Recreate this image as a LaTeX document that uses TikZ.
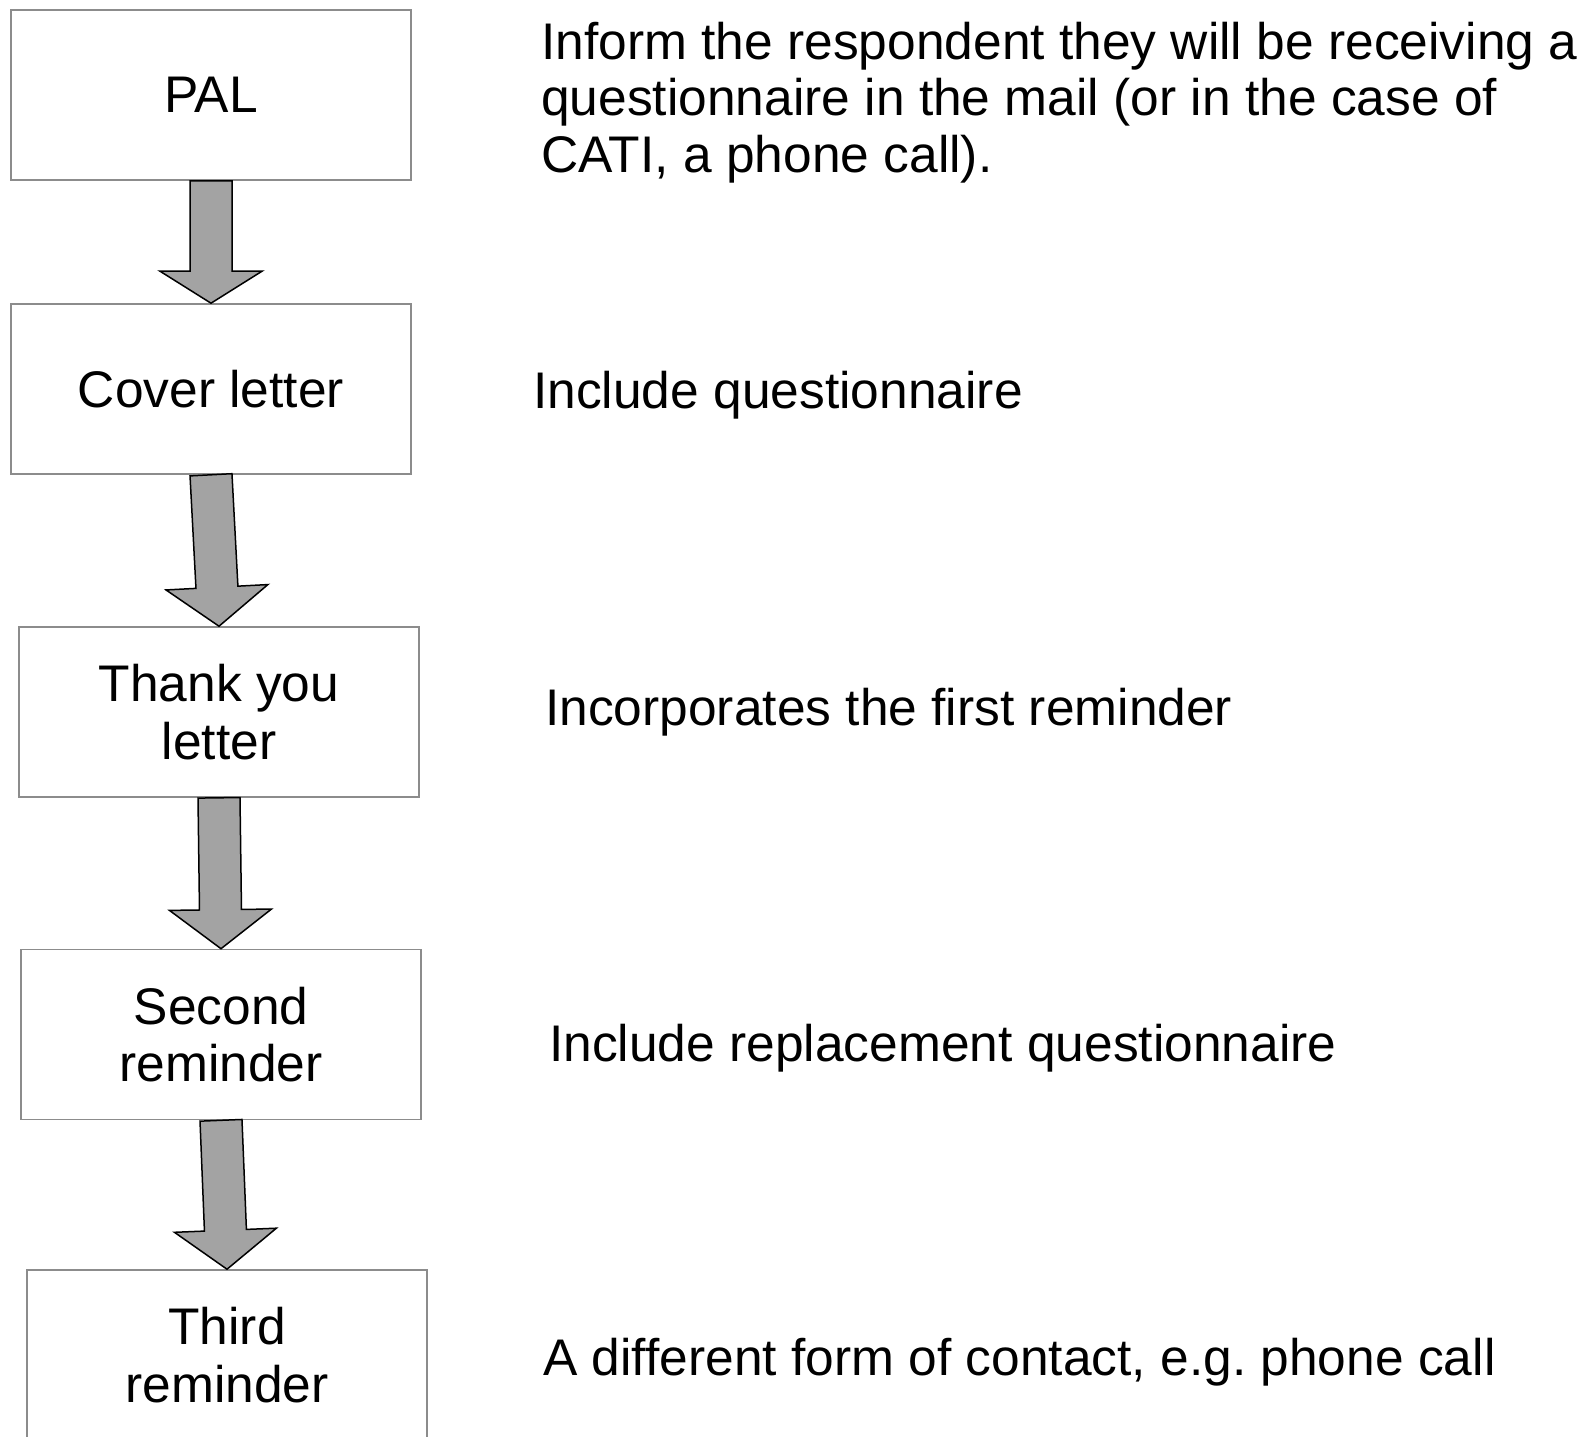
\documentclass[tikz,border=0pt]{standalone}
\usepackage{fontspec}
\setmainfont{Liberation Sans}
\usetikzlibrary{calc}
\definecolor{boxgray}{HTML}{8C8C8C}
\definecolor{arrowfill}{HTML}{A3A3A3}
\tikzset{
  stepbox/.style={draw=boxgray, line width=1.6pt, minimum width=400pt, minimum height=170pt,
    align=center, inner sep=0pt, font=\fontsize{51.5}{57.5}\selectfont},
  note/.style={anchor=base west, align=left, inner sep=0pt, font=\fontsize{51.5}{56.5}\selectfont},
  blockarrow/.style={draw=black, fill=arrowfill, line width=1.5pt, line join=miter},
}
\newcommand\blockarrow[3]{%
  \coordinate (ab) at ($(#2)!#3!(#1)$);
  \draw[blockarrow] ($(#1)!21pt!-90:(#2)$) -- ($(#1)!21pt!90:(#2)$)
    -- ($(ab)!21pt!90:(#2)$) -- ($(ab)!51pt!90:(#2)$) -- (#2)
    -- ($(ab)!51pt!-90:(#2)$) -- ($(ab)!21pt!-90:(#2)$) -- cycle;
}
\begin{document}
\frenchspacing
\begin{tikzpicture}[x=1pt,y=-1pt]
\useasboundingbox[fill=white] (0,0) rectangle (1582,1436);
\node[stepbox] (pal) at (211,95) {PAL};
\node[stepbox] (cover) at (211,389) {Cover letter};
\node[stepbox] (thank) at (219,712) {Thank you\\letter};
\node[stepbox] (second) at (221,1034.5) {Second\\reminder};
\node[stepbox] (third) at (227,1355) {Third\\reminder};

\blockarrow{pal.south}{cover.north}{32pt}
\blockarrow{cover.south}{thank.north}{39pt}
\blockarrow{thank.south}{second.north}{39pt}
\blockarrow{second.south}{third.north}{39pt}

\node[note] (n1) at (541,172.3) {Inform the respondent they will be receiving a\\questionnaire in the mail (or in the case of\\CATI, a phone call).};
\node[note] (n2) at (533,408) {Include questionnaire};
\node[note] (n3) at (545,725.7) {Incorporates the first reminder};
\node[note] (n4) at (549,1061) {Include replacement questionnaire};
\node[note] (n5) at (543,1375.7) {A different form of contact, e.g. phone call};
\end{tikzpicture}
\end{document}
